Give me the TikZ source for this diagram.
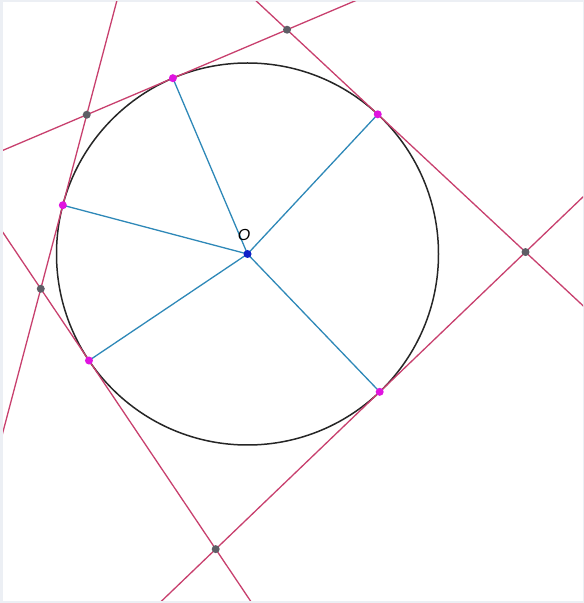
\documentclass[tikz,border=0pt]{standalone}
\usepackage{fontspec}
\setsansfont{Liberation Sans}
\usetikzlibrary{calc}

\definecolor{tanred}{HTML}{C8406E}
\definecolor{spokeblue}{HTML}{2E88B8}
\definecolor{touchmag}{HTML}{E014E0}
\definecolor{cornergray}{HTML}{5E5E66}
\definecolor{centerblue}{HTML}{1020C8}
\definecolor{framegray}{HTML}{ECEFF4}

\begin{document}
\begin{tikzpicture}[x=1pt, y=1pt,
    tangentline/.style={line width=1.3pt, tanred},
    spoke/.style={line width=1.3pt, spokeblue},
    touchdot/.style={circle, fill=touchmag, inner sep=0pt, minimum size=8pt},
    cornerdot/.style={circle, fill=cornergray, inner sep=0pt, minimum size=8pt},
    centerdot/.style={circle, fill=centerblue, inner sep=0pt, minimum size=8pt}]

  % --- frame (faint strip on the left and top) ---
  \fill[framegray] (0,0) rectangle (584,603);
  \fill[white] (3,2) rectangle (583,601);
  \useasboundingbox (0,0) rectangle (584,603);

  % centre and radius: O = (247.5,349), r = 191
  \coordinate (O) at (247.5,349);

  % touching points (angles measured from O)
  \coordinate (T1) at ($(O)+(113:191)$);
  \coordinate (T2) at ($(O)+(47:191)$);
  \coordinate (T3) at ($(O)+(165.2:191)$);
  \coordinate (T4) at ($(O)+(213.9:191)$);
  \coordinate (T5) at ($(O)+(313.8:191)$);

  % corners where two tangents meet: angle (a+b)/2, distance r/cos((b-a)/2)
  \coordinate (V12) at ($(O)+(80:{191/cos(33)})$);
  \coordinate (V13) at ($(O)+(139.1:{191/cos(26.1)})$);
  \coordinate (V34) at ($(O)+(189.55:{191/cos(24.35)})$);
  \coordinate (V45) at ($(O)+(263.85:{191/cos(49.95)})$);
  \coordinate (V25) at ($(O)+(0.4:{191/cos(46.6)})$);

  % --- circle ---
  \draw[line width=1.5pt, black!85] (O) circle[radius=191];

  % --- tangent lines, run out to the frame ---
  \begin{scope}
    \clip (3,2) rectangle (583,601);
    \draw[tangentline] ($(V12)!-2!(V13)$) -- ($(V13)!-2!(V12)$);
    \draw[tangentline] ($(V12)!-2!(V25)$) -- ($(V25)!-2!(V12)$);
    \draw[tangentline] ($(V13)!-2!(V34)$) -- ($(V34)!-2!(V13)$);
    \draw[tangentline] ($(V34)!-2!(V45)$) -- ($(V45)!-2!(V34)$);
    \draw[tangentline] ($(V45)!-2!(V25)$) -- ($(V25)!-2!(V45)$);
  \end{scope}

  % --- radii to the touching points ---
  \draw[spoke] (O) -- (T1);
  \draw[spoke] (O) -- (T2);
  \draw[spoke] (O) -- (T3);
  \draw[spoke] (O) -- (T4);
  \draw[spoke] (O) -- (T5);

  % --- points ---
  \node[touchdot] (t1) at (T1) {};
  \node[touchdot] (t2) at (T2) {};
  \node[touchdot] (t3) at (T3) {};
  \node[touchdot] (t4) at (T4) {};
  \node[touchdot] (t5) at (T5) {};

  \node[cornerdot] (v12) at (V12) {};
  \node[cornerdot] (v13) at (V13) {};
  \node[cornerdot] (v34) at (V34) {};
  \node[cornerdot] (v45) at (V45) {};
  \node[cornerdot] (v25) at (V25) {};

  \node[centerdot] (o) at (O) {};

  % --- label ---
  \node[font=\sffamily\itshape\fontsize{16}{18}\selectfont] (olabel) at (244,368) {O};
\end{tikzpicture}
\end{document}
